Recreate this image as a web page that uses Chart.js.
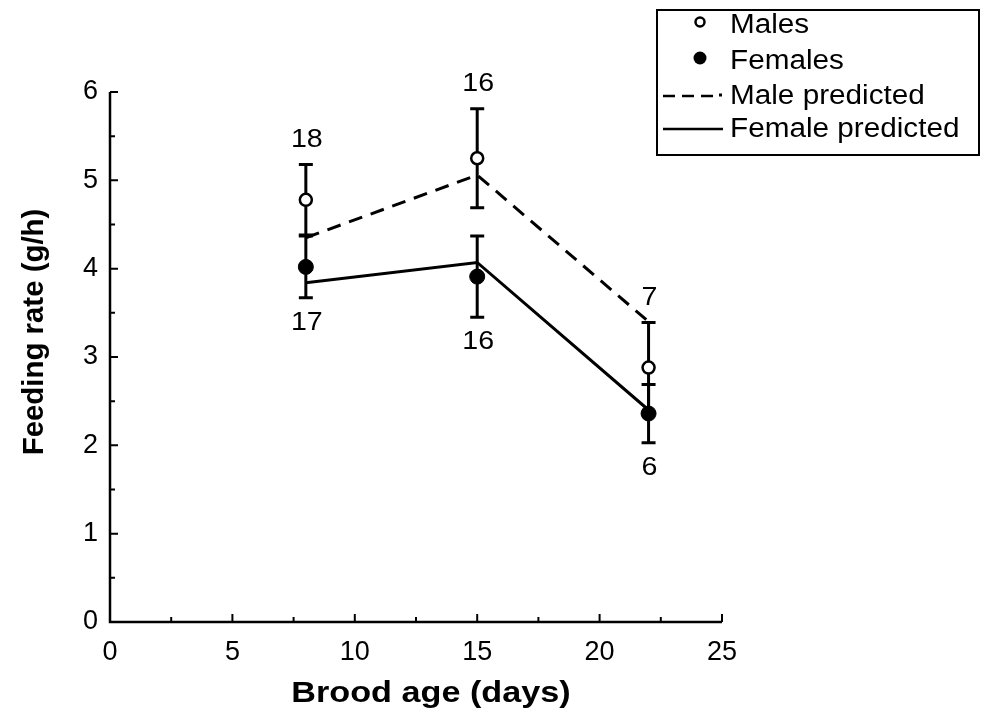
<!DOCTYPE html>
<html>
<head>
<meta charset="utf-8">
<script src="https://cdn.jsdelivr.net/npm/chart.js@4.4.1/dist/chart.umd.min.js"></script>
<style>
  html, body { margin: 0; padding: 0; background: #fff; }
  #wrap { width: 984px; height: 725px; }
</style>
</head>
<body>
<div id="wrap"><canvas id="c" width="984" height="725"></canvas></div>
<script>
// Brood age (days) at which feeding was measured
const broodAge = [8, 15, 22];

// Observed feeding rates (g/h) with error bar half-widths
const maleMean = [4.78, 5.25, 2.88];
const maleErr = [0.40, 0.56, 0.51];
const femaleMean = [4.02, 3.91, 2.36];
const femaleErr = [0.35, 0.46, 0.33];

// Model predictions (g/h)
const malePredicted = [4.35, 5.06, 3.40];
const femalePredicted = [3.84, 4.07, 2.40];

// Sample sizes
const maleN = ['18', '16', '7'];
const femaleN = ['17', '16', '6'];

// Axis ticks
const xTicks = [0, 5, 10, 15, 20, 25];
const yTicks = [0, 1, 2, 3, 4, 5, 6];

const xTitle = 'Brood age (days)';
const yTitle = 'Feeding rate (g/h)';
const legendLabels = ['Males', 'Females', 'Male predicted', 'Female predicted'];

const FONT = '"Liberation Sans", Arial, Helvetica, sans-serif';
const pts = (ys) => broodAge.map((x, i) => ({ x: x, y: ys[i] }));

// Text drawn slightly widened, like the typeset labels
function wideText(ctx, text, x, y, sx, align) {
  ctx.save();
  ctx.translate(x, y);
  ctx.scale(sx, 1);
  ctx.textAlign = align;
  ctx.fillText(text, 0, 0);
  ctx.restore();
}

// Axis lines with inward major/minor ticks
const axisPlugin = {
  id: 'axisLines',
  afterDatasetsDraw(chart) {
    const ctx = chart.ctx;
    const xs = chart.scales.x, ys = chart.scales.y;
    const x0 = xs.getPixelForValue(0), y0 = ys.getPixelForValue(0);
    ctx.save();
    ctx.strokeStyle = '#000';
    ctx.lineWidth = 2.5;
    ctx.lineCap = 'butt';
    ctx.beginPath();
    ctx.moveTo(x0, ys.getPixelForValue(6));
    ctx.lineTo(x0, y0);
    ctx.lineTo(xs.getPixelForValue(25), y0);
    ctx.stroke();
    ctx.lineWidth = 2;
    ctx.beginPath();
    for (let v = 0.5; v <= 6; v += 0.5) {
      const p = ys.getPixelForValue(v);
      const len = Number.isInteger(v) ? 8 : 5;
      ctx.moveTo(x0, p); ctx.lineTo(x0 + len, p);
    }
    for (let v = 2.5; v <= 25; v += 2.5) {
      const p = xs.getPixelForValue(v);
      const len = (v % 5 === 0) ? 8 : 5;
      ctx.moveTo(p, y0); ctx.lineTo(p, y0 - len);
    }
    ctx.stroke();
    ctx.restore();
  }
};

// Axis titles
const titlePlugin = {
  id: 'axisTitles',
  afterDraw(chart) {
    const ctx = chart.ctx;
    ctx.save();
    ctx.fillStyle = '#000';
    ctx.textBaseline = 'alphabetic';
    ctx.font = 'bold 30px ' + FONT;
    wideText(ctx, xTitle, 431, 702, 1.14, 'center');
    ctx.translate(43, 332);
    ctx.rotate(-Math.PI / 2);
    ctx.font = 'bold 30px ' + FONT;
    wideText(ctx, yTitle, 0, 0, 0.98, 'center');
    ctx.restore();
  }
};

// Error bars and sample-size labels
const errorPlugin = {
  id: 'errorBars',
  beforeDatasetsDraw(chart) {
    const ctx = chart.ctx;
    const xs = chart.scales.x, ys = chart.scales.y;
    ctx.save();
    ctx.strokeStyle = '#000';
    ctx.lineWidth = 3;
    const cap = 7;
    const draw = (means, errs) => {
      broodAge.forEach((a, i) => {
        const px = xs.getPixelForValue(a);
        const top = ys.getPixelForValue(means[i] + errs[i]);
        const bot = ys.getPixelForValue(means[i] - errs[i]);
        ctx.beginPath();
        ctx.moveTo(px, top); ctx.lineTo(px, bot);
        ctx.moveTo(px - cap, top); ctx.lineTo(px + cap, top);
        ctx.moveTo(px - cap, bot); ctx.lineTo(px + cap, bot);
        ctx.stroke();
      });
    };
    draw(maleMean, maleErr);
    draw(femaleMean, femaleErr);
    ctx.restore();
  },
  afterDatasetsDraw(chart) {
    const ctx = chart.ctx;
    const xs = chart.scales.x, ys = chart.scales.y;
    ctx.save();
    ctx.fillStyle = '#000';
    ctx.font = '26px ' + FONT;
    ctx.textBaseline = 'middle';
    broodAge.forEach((a, i) => {
      const px = xs.getPixelForValue(a);
      wideText(ctx, maleN[i], px + 1, ys.getPixelForValue(maleMean[i] + maleErr[i]) - 25, 1.1, 'center');
      wideText(ctx, femaleN[i], px + 1, ys.getPixelForValue(femaleMean[i] - femaleErr[i]) + 25, 1.1, 'center');
    });
    ctx.restore();
  }
};

// Boxed key in the upper right
const keyPlugin = {
  id: 'boxedKey',
  afterDraw(chart) {
    const ctx = chart.ctx;
    ctx.save();
    ctx.strokeStyle = '#000';
    ctx.fillStyle = '#000';
    ctx.lineWidth = 2;
    ctx.strokeRect(657, 10, 322, 145);
    const rowY = [25, 61, 96, 129];
    ctx.font = '27px ' + FONT;
    ctx.textBaseline = 'middle';
    legendLabels.forEach((t, i) => wideText(ctx, t, 730, rowY[i] + 1, 1.1, 'left'));
    // open circle
    ctx.lineWidth = 2.5;
    ctx.beginPath();
    ctx.arc(700, rowY[0] - 3, 4.5, 0, Math.PI * 2);
    ctx.stroke();
    // filled circle
    ctx.beginPath();
    ctx.arc(700, rowY[1] - 3, 6.5, 0, Math.PI * 2);
    ctx.fill();
    // dashed line
    ctx.lineWidth = 2.5;
    ctx.setLineDash([12, 7]);
    ctx.beginPath();
    ctx.moveTo(663, rowY[2]); ctx.lineTo(713, rowY[2]);
    ctx.stroke();
    ctx.setLineDash([]);
    ctx.fillRect(719, rowY[2] - 2.5, 3, 3);
    // solid line
    ctx.beginPath();
    ctx.moveTo(663, rowY[3]); ctx.lineTo(723, rowY[3]);
    ctx.stroke();
    ctx.restore();
  }
};

new Chart(document.getElementById('c'), {
  type: 'line',
  data: {
    datasets: [
      {
        label: 'Male predicted',
        data: pts(malePredicted),
        borderColor: '#000',
        borderWidth: 3,
        borderDash: [14, 9],
        pointRadius: 0,
        fill: false,
        tension: 0,
        order: 3
      },
      {
        label: 'Female predicted',
        data: pts(femalePredicted),
        borderColor: '#000',
        borderWidth: 3,
        pointRadius: 0,
        fill: false,
        tension: 0,
        order: 2
      },
      {
        label: 'Females',
        data: pts(femaleMean),
        showLine: false,
        pointRadius: 7.5,
        pointBackgroundColor: '#000',
        pointBorderColor: '#000',
        pointBorderWidth: 1,
        order: 1
      },
      {
        label: 'Males',
        data: pts(maleMean),
        showLine: false,
        pointRadius: 6,
        pointBackgroundColor: '#fff',
        pointBorderColor: '#000',
        pointBorderWidth: 2.5,
        order: 0
      }
    ]
  },
  options: {
    responsive: false,
    animation: false,
    devicePixelRatio: 1,
    layout: { padding: { top: 92, right: 262, left: 0, bottom: 0 } },
    plugins: { legend: { display: false }, tooltip: { enabled: false } },
    scales: {
      x: {
        type: 'linear',
        min: 0, max: 25,
        afterBuildTicks: (s) => { s.ticks = xTicks.map(v => ({ value: v })); },
        afterFit: (s) => { s.height = 103; },
        grid: { display: false, drawTicks: false },
        border: { display: false },
        ticks: { color: '#000', padding: 14, font: { family: FONT, size: 27 } },
        title: { display: false }
      },
      y: {
        type: 'linear',
        min: 0, max: 6,
        afterBuildTicks: (s) => { s.ticks = yTicks.map(v => ({ value: v })); },
        afterFit: (s) => { s.width = 110; },
        grid: { display: false, drawTicks: false },
        border: { display: false },
        ticks: { color: '#000', padding: 12, font: { family: FONT, size: 27 } },
        title: { display: false }
      }
    }
  },
  plugins: [axisPlugin, errorPlugin, keyPlugin, titlePlugin]
});
</script>
</body>
</html>
